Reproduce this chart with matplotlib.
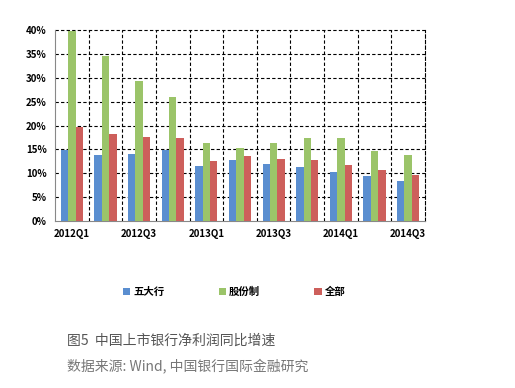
import numpy as np
import matplotlib
matplotlib.use('Agg')
import matplotlib.pyplot as plt

plt.rcParams['font.family'] = ['Noto Sans CJK SC', 'DejaVu Sans']

# data
quarters = ['2012Q1', '2012Q2', '2012Q3', '2012Q4', '2013Q1', '2013Q2',
            '2013Q3', '2013Q4', '2014Q1', '2014Q2', '2014Q3']
big5 = [14.9, 13.8, 14.0, 14.9, 11.5, 12.8, 12.0, 11.4, 10.2, 9.4, 8.3]
joint = [39.8, 34.5, 29.4, 25.9, 16.3, 15.3, 16.3, 17.4, 17.4, 14.7, 13.8]
total = [19.7, 18.2, 17.5, 17.4, 12.6, 13.6, 13.0, 12.8, 11.8, 10.6, 9.7]
series_names = ['五大行', '股份制', '全部']
colors = ['#5A8ED0', '#9BC469', '#CD5F5B']

fig = plt.figure(figsize=(5.15, 3.88), dpi=100)
ax = fig.add_axes([0.107, 0.43, 0.718, 0.493])

x = np.arange(len(quarters))
w = 0.22
for i, (vals, name, c) in enumerate(zip([big5, joint, total], series_names, colors)):
    ax.bar(x + (i - 1) * w, vals, width=w, color=c, label=name, zorder=3)

ax.set_xlim(-0.5, len(quarters) - 0.5)
ax.set_ylim(0, 40)
ax.set_yticks(np.arange(0, 41, 5))
ax.set_yticklabels(['%d%%' % v for v in range(0, 41, 5)], fontsize=7, fontweight='bold')
ax.set_xticks(x[::2])
ax.set_xticklabels(quarters[::2], fontsize=7, fontweight='bold')
ax.tick_params(length=0, pad=6)

# dashed grid
for yv in range(5, 41, 5):
    ax.axhline(yv, color='black', ls=(0, (3, 2)), lw=0.8, zorder=1, clip_on=False)
for xv in np.arange(0.5, len(quarters) - 0.5, 1.0):
    ax.axvline(xv, color='black', ls=(0, (3, 2)), lw=0.8, zorder=1)
ax.spines['top'].set_visible(False)
ax.spines['right'].set_linestyle((0, (3, 2)))
ax.spines['right'].set_linewidth(0.8)
ax.spines['left'].set_color('#888888')
ax.spines['bottom'].set_color('#888888')

fig.legend(loc='center', bbox_to_anchor=(0.455, 0.247), ncol=3, frameon=False,
           handlelength=0.7, handleheight=0.7, handletextpad=0.3, columnspacing=5.2,
           prop={'size': 7.5, 'weight': 'bold'})

fig.text(0.13, 0.122, '图5  中国上市银行净利润同比增速', fontsize=10, color='#555555', va='center')
fig.text(0.13, 0.058, '数据来源: Wind, 中国银行国际金融研究', fontsize=10, color='#777777', va='center')

fig.savefig('out.png', dpi=100)
